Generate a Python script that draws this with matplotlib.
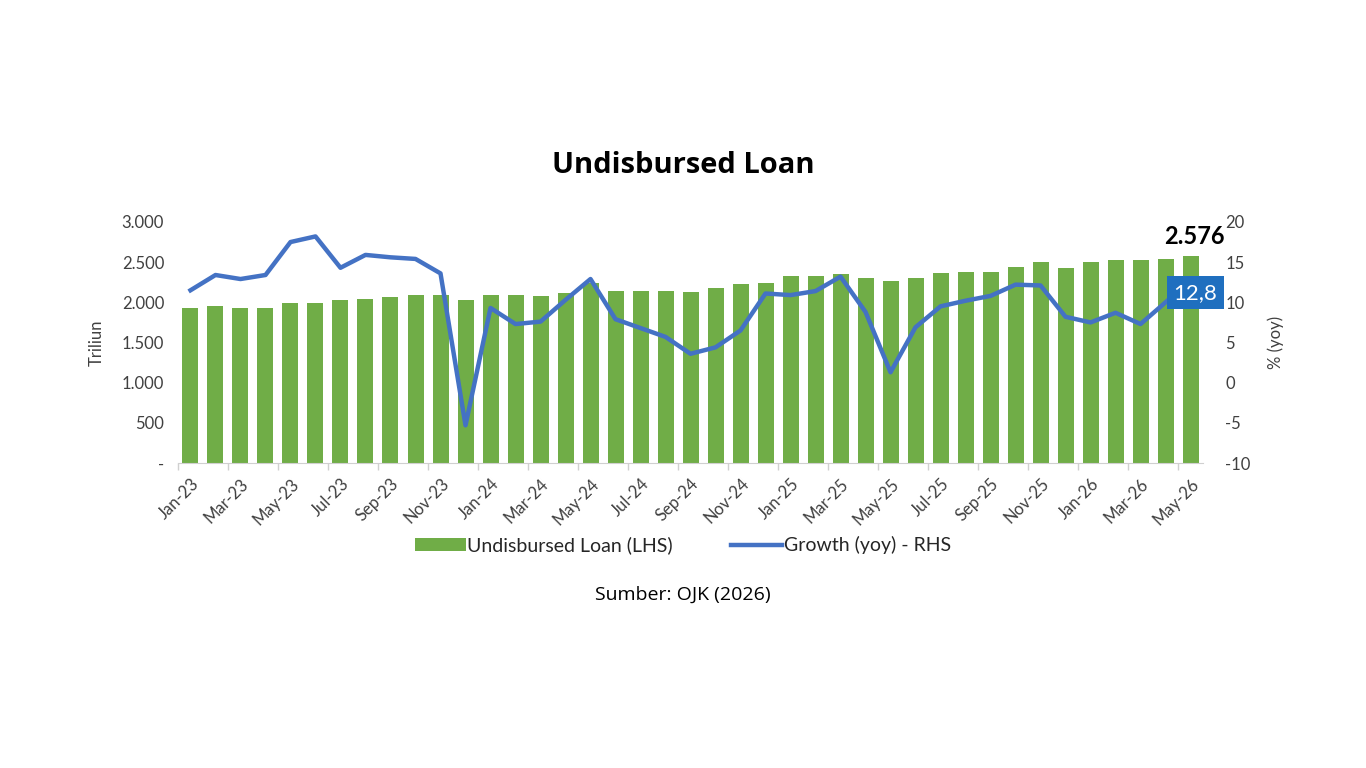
import matplotlib
matplotlib.use("Agg")
import matplotlib.pyplot as plt
from matplotlib.ticker import FuncFormatter
import numpy as np

# ── Data ──────────────────────────────────────────────────────────────────────
months = [
    "Jan-23", "Feb-23", "Mar-23", "Apr-23", "May-23", "Jun-23", "Jul-23", "Aug-23",
    "Sep-23", "Oct-23", "Nov-23", "Dec-23", "Jan-24", "Feb-24", "Mar-24", "Apr-24",
    "May-24", "Jun-24", "Jul-24", "Aug-24", "Sep-24", "Oct-24", "Nov-24", "Dec-24",
    "Jan-25", "Feb-25", "Mar-25", "Apr-25", "May-25", "Jun-25", "Jul-25", "Aug-25",
    "Sep-25", "Oct-25", "Nov-25", "Dec-25", "Jan-26", "Feb-26", "Mar-26", "Apr-26",
    "May-26",
]
loan = [
    1924, 1953, 1924, 1924, 1994, 1994, 2024, 2036, 2061, 2090, 2090, 2024,
    2090, 2090, 2077, 2118, 2243, 2143, 2143, 2143, 2131, 2173, 2226, 2243,
    2326, 2326, 2347, 2297, 2268, 2297, 2359, 2372, 2372, 2442, 2496, 2426,
    2496, 2525, 2525, 2537, 2576,
]
growth = [
    11.5, 13.4, 12.9, 13.4, 17.5, 18.2, 14.3, 15.9, 15.6, 15.4, 13.6, -5.3,
    9.3, 7.3, 7.6, 10.3, 12.9, 7.9, 6.8, 5.7, 3.6, 4.4, 6.5, 11.1,
    10.9, 11.4, 13.2, 8.8, 1.3, 6.9, 9.5, 10.2, 10.8, 12.2, 12.1, 8.2,
    7.5, 8.7, 7.3, 10.0, 12.8,
]

GREEN = "#70AD47"
BLUE = "#4472C4"
TXT = "#404040"
plt.rcParams["font.family"] = ["Lato", "DejaVu Sans"]
plt.rcParams["axes.unicode_minus"] = False

# ── Plot ──────────────────────────────────────────────────────────────────────
fig = plt.figure(figsize=(13.66, 7.68), dpi=100, facecolor="white")
ax = fig.add_axes([0.1303, 0.397, 0.7504, 0.314])
ax2 = ax.twinx()

x = np.arange(len(months))
ax.bar(x, loan, width=0.64, color=GREEN, label="Undisbursed Loan (LHS)", zorder=2)
ax2.plot(x, growth, color=BLUE, lw=3.2, solid_joinstyle="round",
         label="Growth (yoy) - RHS", zorder=3)

ax.set_xlim(-0.5, len(months) - 0.5)
ax.set_ylim(0, 3000)
ax2.set_ylim(-10, 20)
ax.set_yticks(np.arange(0, 3001, 500))
ax2.set_yticks(np.arange(-10, 21, 5))

def thousands(v, pos):
    if v == 0:
        return "-"
    return f"{int(v):,}".replace(",", ".")

ax.yaxis.set_major_formatter(FuncFormatter(thousands))

ax.set_xticks(x[::2])
ax.set_xticklabels(months[::2], rotation=45, ha="right", rotation_mode="anchor")
ax.set_xticks(np.arange(-0.5, len(months), 2), minor=True)
ax.tick_params(axis="x", which="major", length=0, pad=9, labelsize=12, labelcolor=TXT)
ax.tick_params(axis="x", which="minor", length=5, color="#d0d0d0", width=1)
ax.tick_params(axis="y", length=0, pad=10, labelsize=12, labelcolor=TXT)
ax2.tick_params(axis="y", length=0, pad=16, labelsize=12, labelcolor=TXT)

for a in (ax, ax2):
    for sp in ("top", "left", "right"):
        a.spines[sp].set_visible(False)
ax.spines["bottom"].set_color("#d0d0d0")
ax2.spines["bottom"].set_visible(False)

ax.set_ylabel("Triliun", fontsize=12, color=TXT, labelpad=12)
ax2.set_ylabel("% (yoy)", fontsize=12, color=TXT, labelpad=12)

# Annotations on last point
ax.text(x[-1] + 0.15, loan[-1] + 95, f"{loan[-1]:,}".replace(",", "."), ha="center",
        va="bottom", fontsize=17, fontweight="bold", color="black", zorder=6)
ax2.text(x[-1] + 0.2, growth[-1] - 1.6, f"{growth[-1]:.1f}".replace(".", ","), ha="center",
         va="center", fontsize=16, color="white", zorder=5,
         bbox=dict(boxstyle="square,pad=0.28", fc="#1F6FBF", ec="none"))

# Legend
h1, l1 = ax.get_legend_handles_labels()
h2, l2 = ax2.get_legend_handles_labels()
fig.legend(h1 + h2, l1 + l2, loc="center", bbox_to_anchor=(0.5, 0.29), ncol=2,
           frameon=False, fontsize=14, handlelength=2.6, handletextpad=0.1,
           columnspacing=3.0, labelcolor="#262626")

fig.text(0.5, 0.784, "Undisbursed Loan", ha="center", va="center",
         fontsize=21, fontweight="bold", color="black", family=["Open Sans", "DejaVu Sans"])
fig.text(0.5, 0.226, "Sumber: OJK (2026)", ha="center", va="center",
         fontsize=14, color="black", family=["Open Sans", "DejaVu Sans"])

fig.savefig("out.png", dpi=100, facecolor="white")
plt.close(fig)
